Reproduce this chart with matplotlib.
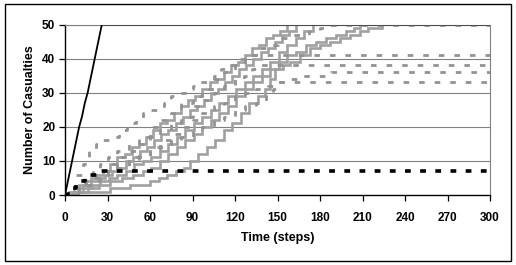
import matplotlib
matplotlib.use("Agg")
import matplotlib.pyplot as plt
from matplotlib.patches import Rectangle

plt.rcParams['font.family'] = ['Liberation Sans', 'DejaVu Sans']

# ---- data ----
black_solid_t = [0, 2, 4, 6, 8, 10, 12, 14, 16, 18, 20, 22, 24, 26, 300]
black_solid_v = [0, 4, 8, 12, 16, 20, 23, 27, 30, 34, 38, 42, 46, 50, 50]

black_dash_t = [0, 2, 5, 8, 11, 14, 17, 20, 24, 300]
black_dash_v = [0, 1, 2, 3, 4, 5, 6, 6, 7, 7]

s1_t = [0, 3, 6, 10, 14, 18, 22, 27, 32, 37, 42, 47, 52, 57, 62, 67, 72, 77, 82, 87, 92,
        97, 102, 107, 112, 117, 122, 127, 132, 137, 142, 147, 152, 157]
s1_v = [0, 1, 2, 3, 4, 5, 6, 7, 9, 11, 12, 14, 15, 17, 19, 21, 22, 24, 26, 28, 29,
        31, 33, 34, 36, 38, 39, 41, 43, 44, 46, 47, 48, 50]

s2_t = [0, 5, 9, 13, 18, 23, 28, 33, 38, 43, 48, 53, 58, 63, 68, 73, 78, 83, 88, 93,
        98, 103, 108, 113, 118, 123, 128, 133, 138, 143, 148, 153, 158, 163]
s2_v = [0, 1, 2, 3, 4, 5, 6, 7, 8, 10, 11, 13, 14, 16, 18, 19, 21, 23, 25, 26,
        28, 30, 31, 33, 35, 37, 38, 40, 42, 43, 45, 47, 48, 50]

s3_t = [0, 7, 13, 19, 25, 31, 37, 43, 49, 55, 61, 67, 73, 79, 85, 91, 97, 103, 109,
        115, 121, 127, 133, 139, 145, 151, 157, 163, 169, 175]
s3_v = [0, 1, 2, 3, 4, 5, 6, 7, 9, 10, 11, 13, 15, 17, 19, 21, 23, 25, 27,
        29, 31, 33, 35, 37, 39, 42, 44, 46, 48, 50]

s4_t = [0, 9, 16, 24, 32, 40, 48, 55, 61, 67, 73, 79, 85, 91, 97, 103, 109, 115, 121,
        127, 133, 139, 145, 151, 157, 163, 170, 177, 184, 191, 198, 204, 208]
s4_v = [0, 1, 2, 3, 4, 5, 6, 7, 8, 10, 12, 14, 16, 18, 20, 22, 24, 26, 29,
        31, 33, 35, 37, 39, 41, 42, 44, 45, 46, 47, 48, 49, 50]

s5_t = [0, 8, 32, 46, 60, 66, 72, 78, 84, 88, 94, 100, 106, 112, 118, 124, 130, 136,
        141, 145, 148, 154, 159, 166, 173, 180, 187, 194, 201, 208, 214, 220, 224]
s5_v = [0, 1, 2, 3, 4, 5, 6, 7, 8, 10, 12, 14, 16, 19, 21, 24, 27, 29,
        31, 34, 37, 38, 39, 41, 43, 44, 45, 46, 47, 48, 49, 49, 50]

d1_t = [0, 4, 8, 13, 17, 22, 27, 32, 38, 44, 50, 55, 60, 65, 70, 75, 80, 85, 90, 95,
        100, 105, 110, 115, 120, 127, 135, 142, 150, 157, 164, 172, 180, 187, 300]
d1_v = [0, 2, 6, 9, 13, 15, 16, 17, 19, 21, 22, 24, 25, 26, 27, 29, 30, 31, 32, 33,
        34, 35, 37, 38, 40, 41, 43, 44, 46, 47, 47, 48, 49, 50, 50]

d2_t = [0, 5, 10, 15, 20, 25, 30, 37, 45, 52, 60, 67, 75, 82, 90, 97, 105, 112, 120,
        127, 133, 300]
d2_v = [0, 2, 4, 6, 8, 9, 11, 13, 15, 17, 20, 22, 24, 27, 29, 31, 34, 36, 38,
        40, 41, 41]

d3_t = [0, 5, 10, 15, 20, 25, 30, 37, 45, 52, 60, 67, 75, 82, 90, 97, 105, 112, 120,
        126, 132, 138, 300]
d3_v = [0, 1, 3, 4, 6, 7, 9, 11, 13, 15, 17, 19, 21, 23, 26, 28, 30, 32, 34,
        35, 37, 38, 38]

d4_t = [0, 5, 10, 15, 20, 25, 30, 37, 45, 52, 60, 67, 75, 82, 90, 97, 105, 112, 120,
        127, 135, 143, 150, 158, 166, 188, 300]
d4_v = [0, 1, 2, 3, 5, 6, 8, 9, 11, 12, 14, 16, 18, 20, 22, 24, 26, 27, 29,
        30, 31, 32, 33, 34, 35, 36, 36]

d5_t = [0, 5, 10, 15, 20, 25, 30, 37, 45, 52, 60, 67, 75, 82, 90, 97, 105, 112, 120,
        127, 135, 142, 147, 152, 300]
d5_v = [0, 1, 2, 3, 4, 5, 7, 8, 10, 11, 13, 14, 16, 17, 19, 20, 22, 23, 25,
        26, 27, 30, 31, 33, 33]

x_ticks = [0, 30, 60, 90, 120, 150, 180, 210, 240, 270, 300]
y_ticks = [0, 10, 20, 30, 40, 50]

# ---- figure ----
fig = plt.figure(figsize=(5.16, 2.65), dpi=100)
ax = fig.add_axes([65/516, 1-195/265, 425/516, 170.5/265])

grid_c = '#808080'
for y in y_ticks[1:]:
    ax.axhline(y, color=grid_c, lw=0.8, zorder=0)

solid_c = '#a0a0a0'
dash_c = '#939393'
for t, v in [(s1_t, s1_v), (s2_t, s2_v), (s3_t, s3_v), (s4_t, s4_v), (s5_t, s5_v)]:
    ax.plot(t, v, drawstyle='steps-post', color=solid_c, lw=1.9, zorder=2,
            solid_joinstyle='miter')

for t, v in [(d1_t, d1_v), (d2_t, d2_v), (d3_t, d3_v), (d4_t, d4_v), (d5_t, d5_v)]:
    ax.plot(t, v, drawstyle='steps-post', color=dash_c, lw=2.0, zorder=3,
            dashes=(2.0, 3.6), dash_capstyle='butt')

ax.plot(black_dash_t, black_dash_v, drawstyle='steps-post', color='black', lw=2.6,
        dashes=(1.6, 2.6), dash_capstyle='butt', zorder=4)
ax.plot(black_solid_t, black_solid_v, color='black', lw=1.3, zorder=5)

ax.set_xlim(0, 300)
ax.set_ylim(0, 50)
ax.set_xticks(x_ticks)
ax.set_yticks(y_ticks)
ax.tick_params(axis='both', direction='out', length=4, width=0.9, labelsize=8.5,
               pad=3, colors='black')
ax.tick_params(axis='x', pad=8)
for lab in ax.get_xticklabels() + ax.get_yticklabels():
    lab.set_fontweight('bold')

ax.spines['left'].set_color('black')
ax.spines['bottom'].set_color('black')
ax.spines['left'].set_linewidth(1.0)
ax.spines['bottom'].set_linewidth(1.0)
ax.spines['right'].set_color(grid_c)
ax.spines['top'].set_color(grid_c)
ax.spines['right'].set_linewidth(0.8)
ax.spines['top'].set_linewidth(0.8)

ax.set_xlabel('Time (steps)', fontsize=9, fontweight='bold', labelpad=6)
ax.set_ylabel('Number of Casualties', fontsize=9, fontweight='bold', labelpad=4)

fig.patches.append(Rectangle((5/516, 1-261/265), 506/516, 257/265,
                             transform=fig.transFigure, fill=False,
                             edgecolor='black', lw=1.0))

fig.savefig('out.png', dpi=100)
